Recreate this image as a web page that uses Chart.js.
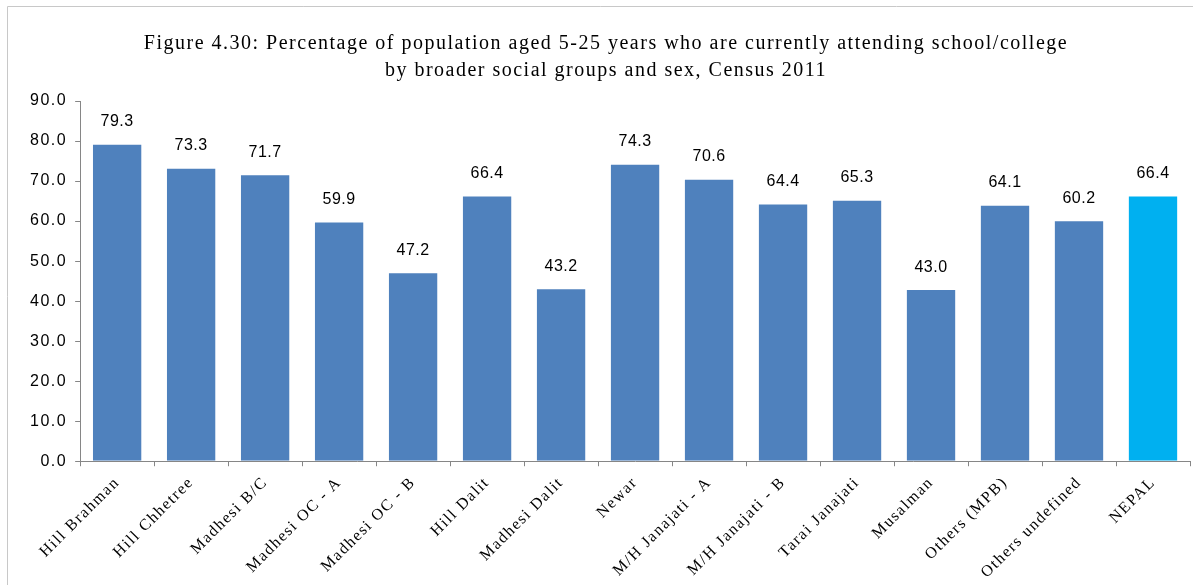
<!DOCTYPE html>
<html>
<head>
<meta charset="utf-8">
<script src="https://cdn.jsdelivr.net/npm/chart.js@4"></script>
<style>
  html, body { margin: 0; padding: 0; background: #fff; }
  #wrap { width: 1193px; height: 585px; position: relative; }
</style>
</head>
<body>
<div id="wrap"><canvas id="myChart"></canvas></div>
<script>
const groups = ['Hill Brahman', 'Hill Chhetree', 'Madhesi B/C', 'Madhesi OC - A', 'Madhesi OC - B',
    'Hill Dalit', 'Madhesi Dalit', 'Newar', 'M/H Janajati - A', 'M/H Janajati - B',
    'Tarai Janajati', 'Musalman', 'Others (MPB)', 'Others undefined', 'NEPAL'];
const attending = [79.3, 73.3, 71.7, 59.9, 47.2, 66.4, 43.2, 74.3, 70.6, 64.4, 65.3, 43.0, 64.1, 60.2, 66.4];
const titleLines = ['Figure 4.30: Percentage of population aged 5-25 years who are currently attending school/college',
    'by broader social groups and sex, Census 2011'];

const barColors = groups.map(g => g === 'NEPAL' ? '#00B0F0' : '#4F81BD');

// the original text is drawn a bit wide, so space the letters out a little
function spaceLetters(chart) {
    chart.ctx.letterSpacing = '1.5px';
}

// frame + value labels (no datalabels plugin available offline)
const extras = {
    id: 'extras',
    beforeUpdate: spaceLetters,
    beforeLayout: spaceLetters,
    beforeDraw(chart) {
        spaceLetters(chart);
        const ctx = chart.ctx;
        ctx.save();
        ctx.strokeStyle = '#c8c8c8';
        ctx.lineWidth = 1;
        ctx.beginPath();
        ctx.moveTo(7.5, 600);
        ctx.lineTo(7.5, 6.5);
        ctx.lineTo(1193, 6.5);
        ctx.stroke();
        ctx.restore();
    },
    afterDatasetsDraw(chart) {
        const ctx = chart.ctx;
        const meta = chart.getDatasetMeta(0);
        ctx.save();
        ctx.letterSpacing = '0.5px';
        ctx.font = '16px "Liberation Sans"';
        ctx.fillStyle = '#000';
        ctx.textAlign = 'center';
        ctx.textBaseline = 'middle';
        meta.data.forEach((bar, i) => {
            ctx.fillText(attending[i].toFixed(1), bar.x, bar.y - 22);
        });
        ctx.restore();
    }
};

const ctx = document.getElementById('myChart').getContext('2d');
new Chart(ctx, {
    type: 'bar',
    data: {
        labels: groups,
        datasets: [{
            data: attending,
            backgroundColor: barColors,
            borderColor: 'rgba(255,255,255,0.35)',
            borderWidth: 1,
            barPercentage: 0.68,
            categoryPercentage: 1
        }]
    },
    options: {
        responsive: true,
        maintainAspectRatio: false,
        animation: false,
        layout: { padding: { left: 22, right: 3, top: 0, bottom: -4 } },
        plugins: {
            legend: { display: false },
            tooltip: { enabled: false },
            title: {
                display: true,
                text: titleLines,
                color: '#000',
                font: { family: '"Liberation Serif"', size: 20, weight: 'normal', lineHeight: 1.35 },
                padding: { top: 30, bottom: 17 }
            }
        },
        scales: {
            y: {
                min: 0,
                max: 90,
                ticks: {
                    stepSize: 10,
                    color: '#000',
                    font: { family: '"Liberation Sans"', size: 16 },
                    padding: 8,
                    callback: v => v.toFixed(1)
                },
                grid: { drawOnChartArea: false, drawTicks: true, tickLength: 5, color: '#868686' },
                border: { color: '#868686', width: 1 }
            },
            x: {
                ticks: {
                    color: '#000',
                    font: { family: '"Liberation Serif"', size: 16 },
                    maxRotation: 45,
                    minRotation: 45,
                    autoSkip: false,
                    padding: 7
                },
                grid: { offset: true, drawOnChartArea: false, drawTicks: true, tickLength: 5, color: '#868686' },
                border: { color: '#868686', width: 1 }
            }
        }
    },
    plugins: [extras]
});
</script>
</body>
</html>
